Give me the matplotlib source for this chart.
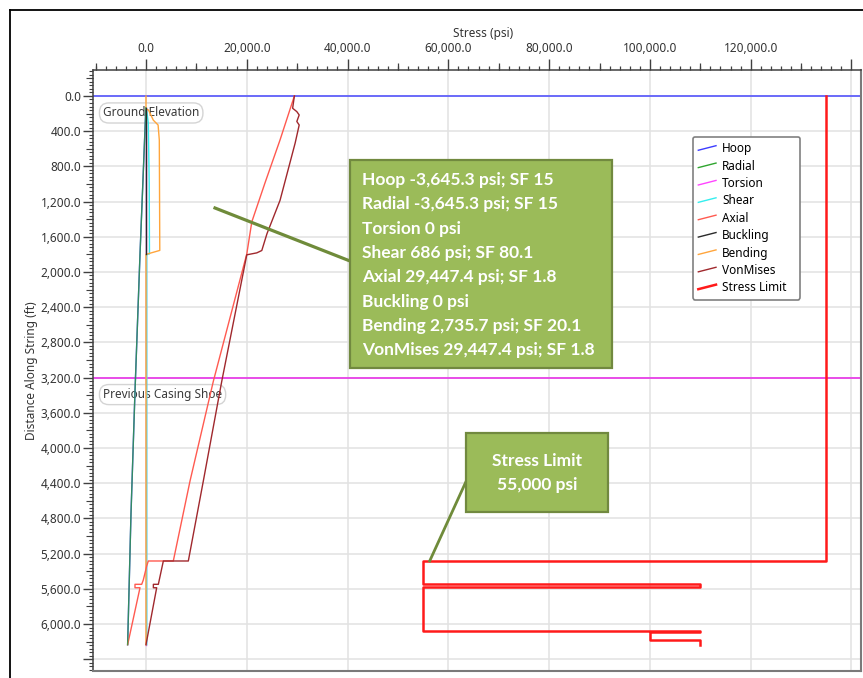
import matplotlib
matplotlib.use("Agg")
import matplotlib.pyplot as plt
from matplotlib.lines import Line2D
from matplotlib.patches import Rectangle
from matplotlib.legend_handler import HandlerBase
from matplotlib.ticker import MultipleLocator, FixedLocator, FuncFormatter, NullFormatter

# ---------------- data ----------------
depth_hoop = [136, 1800, 3350, 4750, 6235]
hoop_psi = [-30, -1190, -2180, -2980, -3645.3]
radial_psi = [-30, -1190, -2180, -2980, -3645.3]

depth_torsion = [136, 6235]
torsion_psi = [0, 0]

depth_shear = [136, 160, 307, 1000, 1795, 1800, 6235]
shear_psi = [0, 130, 460, 640, 686, 150, 150]

depth_buckling = [136, 1800]
buckling_psi = [0, 0]

depth_bending = [0, 150, 160, 275, 330, 500, 1755, 1800, 6235]
bending_psi = [0, 0, 500, 1450, 2400, 2640, 2735.7, 0, 0]

depth_axial = [0, 500, 990, 1430, 1795, 3240, 4374, 5284, 5284, 5341, 5500,
               5549, 5549, 5588, 5588, 6235]
axial_psi = [29447.4, 26600, 23600, 21000, 20000, 13370, 8740, 5420, 457, 139, -536,
             -854, -2185, -2185, -1192, -3645.3]

depth_vm = [0, 140, 178, 216, 290, 330, 535, 1186, 1566, 1756, 1783, 1805, 3240,
            4374, 5284, 5284, 5549, 5549, 5588, 5588, 6235]
vm_psi = [29447.4, 29100, 29930, 30400, 29930, 30400, 29600, 26600, 24000, 22980, 21980,
          20000, 15040, 11380, 8400, 3440, 2450, 1460, 1460, 2120, 0]

depth_limit = [0, 5284, 5284, 5549, 5549, 5580, 5580, 6082, 6082, 6095, 6095,
               6182, 6182, 6239]
limit_psi = [135000, 135000, 55000, 55000, 110000, 110000, 55000, 55000, 110000,
             110000, 100000, 100000, 110000, 110000]

ground_elevation_ft = 0
casing_shoe_ft = 3200

callout_lines = [
    "Hoop -3,645.3 psi; SF 15",
    "Radial -3,645.3 psi; SF 15",
    "Torsion 0 psi",
    "Shear 686 psi; SF 80.1",
    "Axial 29,447.4 psi; SF 1.8",
    "Buckling 0 psi",
    "Bending 2,735.7 psi; SF 20.1",
    "VonMises 29,447.4 psi; SF 1.8",
]
stress_limit_psi = 55000

# ---------------- figure ----------------
W, H = 863, 678
fig = plt.figure(figsize=(W / 100, H / 100), dpi=100)
plt.rcParams["font.family"] = ["Noto Sans", "DejaVu Sans"]


def fx(px):
    return px / W


def fy(py):
    return 1 - py / H


ax = fig.add_axes([fx(93), fy(671), fx(861) - fx(93), fy(70) - fy(671)])
ax.set_xlim(-10518, 141893)
ax.set_ylim(6534, -295)

# grid
ax.set_axisbelow(True)
ax.grid(True, which="major", color="#E2E2E2", lw=1.1)

# reference lines
ax.axhline(ground_elevation_ft, color="#4848FF", lw=1.1, zorder=2)
ax.axhline(casing_shoe_ft, color="#E84CE8", lw=1.4, zorder=2)

for txt, yref in [("Ground Elevation", ground_elevation_ft),
                  ("Previous Casing Shoe", casing_shoe_ft)]:
    ax.annotate(txt, xy=(0, yref), xycoords=("axes fraction", "data"),
                xytext=(10, -17), textcoords="offset pixels",
                ha="left", va="center", fontsize=8.5, color="#3A3A3A", zorder=1.5,
                bbox=dict(boxstyle="round,pad=0.3,rounding_size=0.8", fc="white",
                          ec="#D4D4D4", lw=1.0))

# series
lw = 1.0
l_tor, = ax.plot(torsion_psi, depth_torsion, color="#FF44FF", lw=lw, label="Torsion", zorder=2)
l_hoop, = ax.plot(hoop_psi, depth_hoop, color="#3C3CFF", lw=lw, label="Hoop", zorder=3)
l_rad, = ax.plot(radial_psi, depth_hoop, color="#2FA52F", lw=lw, alpha=0.75, label="Radial", zorder=3.1)
l_shear, = ax.plot(shear_psi, depth_shear, color="#33EEEE", lw=lw, label="Shear", zorder=3)
l_bend, = ax.plot(bending_psi, depth_bending, color="#FFA53C", lw=lw, label="Bending", zorder=3)
l_buck, = ax.plot(buckling_psi, depth_buckling, color="#2A2A2A", lw=lw, label="Buckling", zorder=3.2)
l_ax, = ax.plot(axial_psi, depth_axial, color="#FF5A50", lw=lw, label="Axial", zorder=3)
l_vm, = ax.plot(vm_psi, depth_vm, color="#A0282D", lw=lw, label="VonMises", zorder=3)
l_lim, = ax.plot(limit_psi, depth_limit, color="#FF1A1A", lw=1.8, label="Stress Limit", zorder=3)

# axes styling
ax.xaxis.set_ticks_position("top")
ax.xaxis.set_label_position("top")
ax.xaxis.set_major_locator(MultipleLocator(20000))
ax.xaxis.set_minor_locator(MultipleLocator(2000))
ax.yaxis.set_major_locator(MultipleLocator(400))
ax.yaxis.set_minor_locator(MultipleLocator(40))


def xfmt(v, pos):
    if v < 0 or v > 125000:
        return ""
    return f"{v:,.1f}"


def yfmt(v, pos):
    if v < 0 or v > 6100:
        return ""
    return f"{v:,.1f}"


ax.xaxis.set_major_formatter(FuncFormatter(xfmt))
ax.yaxis.set_major_formatter(FuncFormatter(yfmt))
ax.tick_params(axis="x", which="major", length=8, width=1.0, pad=2.5, labelsize=8.5,
               colors="#404040", labelcolor="#333333")
ax.tick_params(axis="x", which="minor", length=3, width=0.9, colors="#404040")
ax.tick_params(axis="y", which="major", length=7.5, width=1.0, pad=1, labelsize=8.5,
               colors="#404040", labelcolor="#333333")
ax.tick_params(axis="y", which="minor", length=3, width=0.8, colors="#404040")

# medium-length ticks
sx = ax.secondary_xaxis("top")
sx.xaxis.set_major_locator(FixedLocator([v for v in range(-10000, 141000, 20000)]))
sx.xaxis.set_major_formatter(NullFormatter())
sx.tick_params(length=5, width=0.9, colors="#404040")
sx.spines["top"].set_visible(False)
sy = ax.secondary_yaxis("left")
sy.yaxis.set_major_locator(FixedLocator([v for v in range(-200, 6540, 400)]))
sy.yaxis.set_major_formatter(NullFormatter())
sy.tick_params(length=5, width=0.8, colors="#404040")
sy.spines["left"].set_visible(False)

for s in ("left", "top"):
    ax.spines[s].set_color("#404040")
    ax.spines[s].set_linewidth(1.1)
for s in ("right", "bottom"):
    ax.spines[s].set_color("#7A7A7A")
    ax.spines[s].set_linewidth(1.5)

ax.set_xlabel("Stress (psi)", fontsize=8.5, color="#333333")
ax.xaxis.set_label_coords((483 - 93) / 768, (671 - 33) / 601)
ax.xaxis.label.set_va("center")
ax.set_ylabel("Distance Along String (ft)", fontsize=8.5, color="#333333")
ax.yaxis.set_label_coords((32 - 93) / 768, 0.5)
ax.yaxis.label.set_va("center")


# legend with slanted swatches
class SlantHandler(HandlerBase):
    def create_artists(self, legend, orig_handle, xdescent, ydescent, width, height,
                       fontsize, trans):
        ln = Line2D([-xdescent, -xdescent + width],
                    [-ydescent + 0.25 * height, -ydescent + 0.8 * height],
                    color=orig_handle.get_color(), lw=orig_handle.get_linewidth(),
                    transform=trans)
        return [ln]


handles = [l_hoop, l_rad, l_tor, l_shear, l_ax, l_buck, l_bend, l_vm, l_lim]
lx0 = (693 - 93) / 768
lx1 = (800 - 93) / 768
ly1 = (671 - 137) / 601
ly0 = (671 - 298) / 601
leg = ax.legend(handles=handles, loc="upper left",
                bbox_to_anchor=(lx0, ly0, lx1 - lx0, ly1 - ly0), mode="expand",
                borderaxespad=0, fontsize=8.5, handlelength=1.5, handletextpad=0.5,
                labelspacing=0.37, borderpad=0.45, fancybox=True, framealpha=1,
                edgecolor="#808080", handler_map={Line2D: SlantHandler()})
leg.get_frame().set_linewidth(1.2)
leg.set_zorder(5)

# callouts
GREEN = "#9BBB59"
GREEN_EDGE = "#71893F"
LINE_GREEN = "#6F8B3A"
CALLOUT_FONT = dict(color="white", fontsize=12.5, fontweight="bold",
                    family=["Lato", "DejaVu Sans"], va="center", zorder=7)


def fig_box(x0, y0, x1, y1):
    r = Rectangle((fx(x0), fy(y1)), fx(x1) - fx(x0), fy(y0) - fy(y1),
                  transform=fig.transFigure, fc=GREEN, ec=GREEN_EDGE, lw=1.6, zorder=6)
    fig.add_artist(r)


fig.add_artist(Line2D([fx(215), fx(350)], [fy(208), fy(261)], transform=fig.transFigure,
                      color=LINE_GREEN, lw=2.3, zorder=6))
fig_box(350, 160, 612, 368)
for i, txt in enumerate(callout_lines):
    fig.text(fx(362), fy(180 + i * 24.3), txt, ha="left", **CALLOUT_FONT)

# stress limit callout, anchored at the limit corner
anchor = ax.transData.transform((stress_limit_psi + 1300, depth_limit[1]))
fig.add_artist(Line2D([anchor[0] / W, fx(469)], [anchor[1] / H, fy(475)],
                      transform=fig.transFigure, color=LINE_GREEN, lw=2.0, zorder=6))
fig_box(466, 433, 608, 512)
fig.text(fx(537), fy(461), "Stress Limit", ha="center", **CALLOUT_FONT)
fig.text(fx(537), fy(485), f"{stress_limit_psi:,} psi", ha="center", **CALLOUT_FONT)

# outer frame
fig.add_artist(Line2D([fx(10), 1], [fy(10), fy(10)], transform=fig.transFigure,
                      color="black", lw=1.3))
fig.add_artist(Line2D([fx(10), fx(10)], [fy(10), 0], transform=fig.transFigure,
                      color="black", lw=1.3))

fig.savefig("out.png", dpi=100)
